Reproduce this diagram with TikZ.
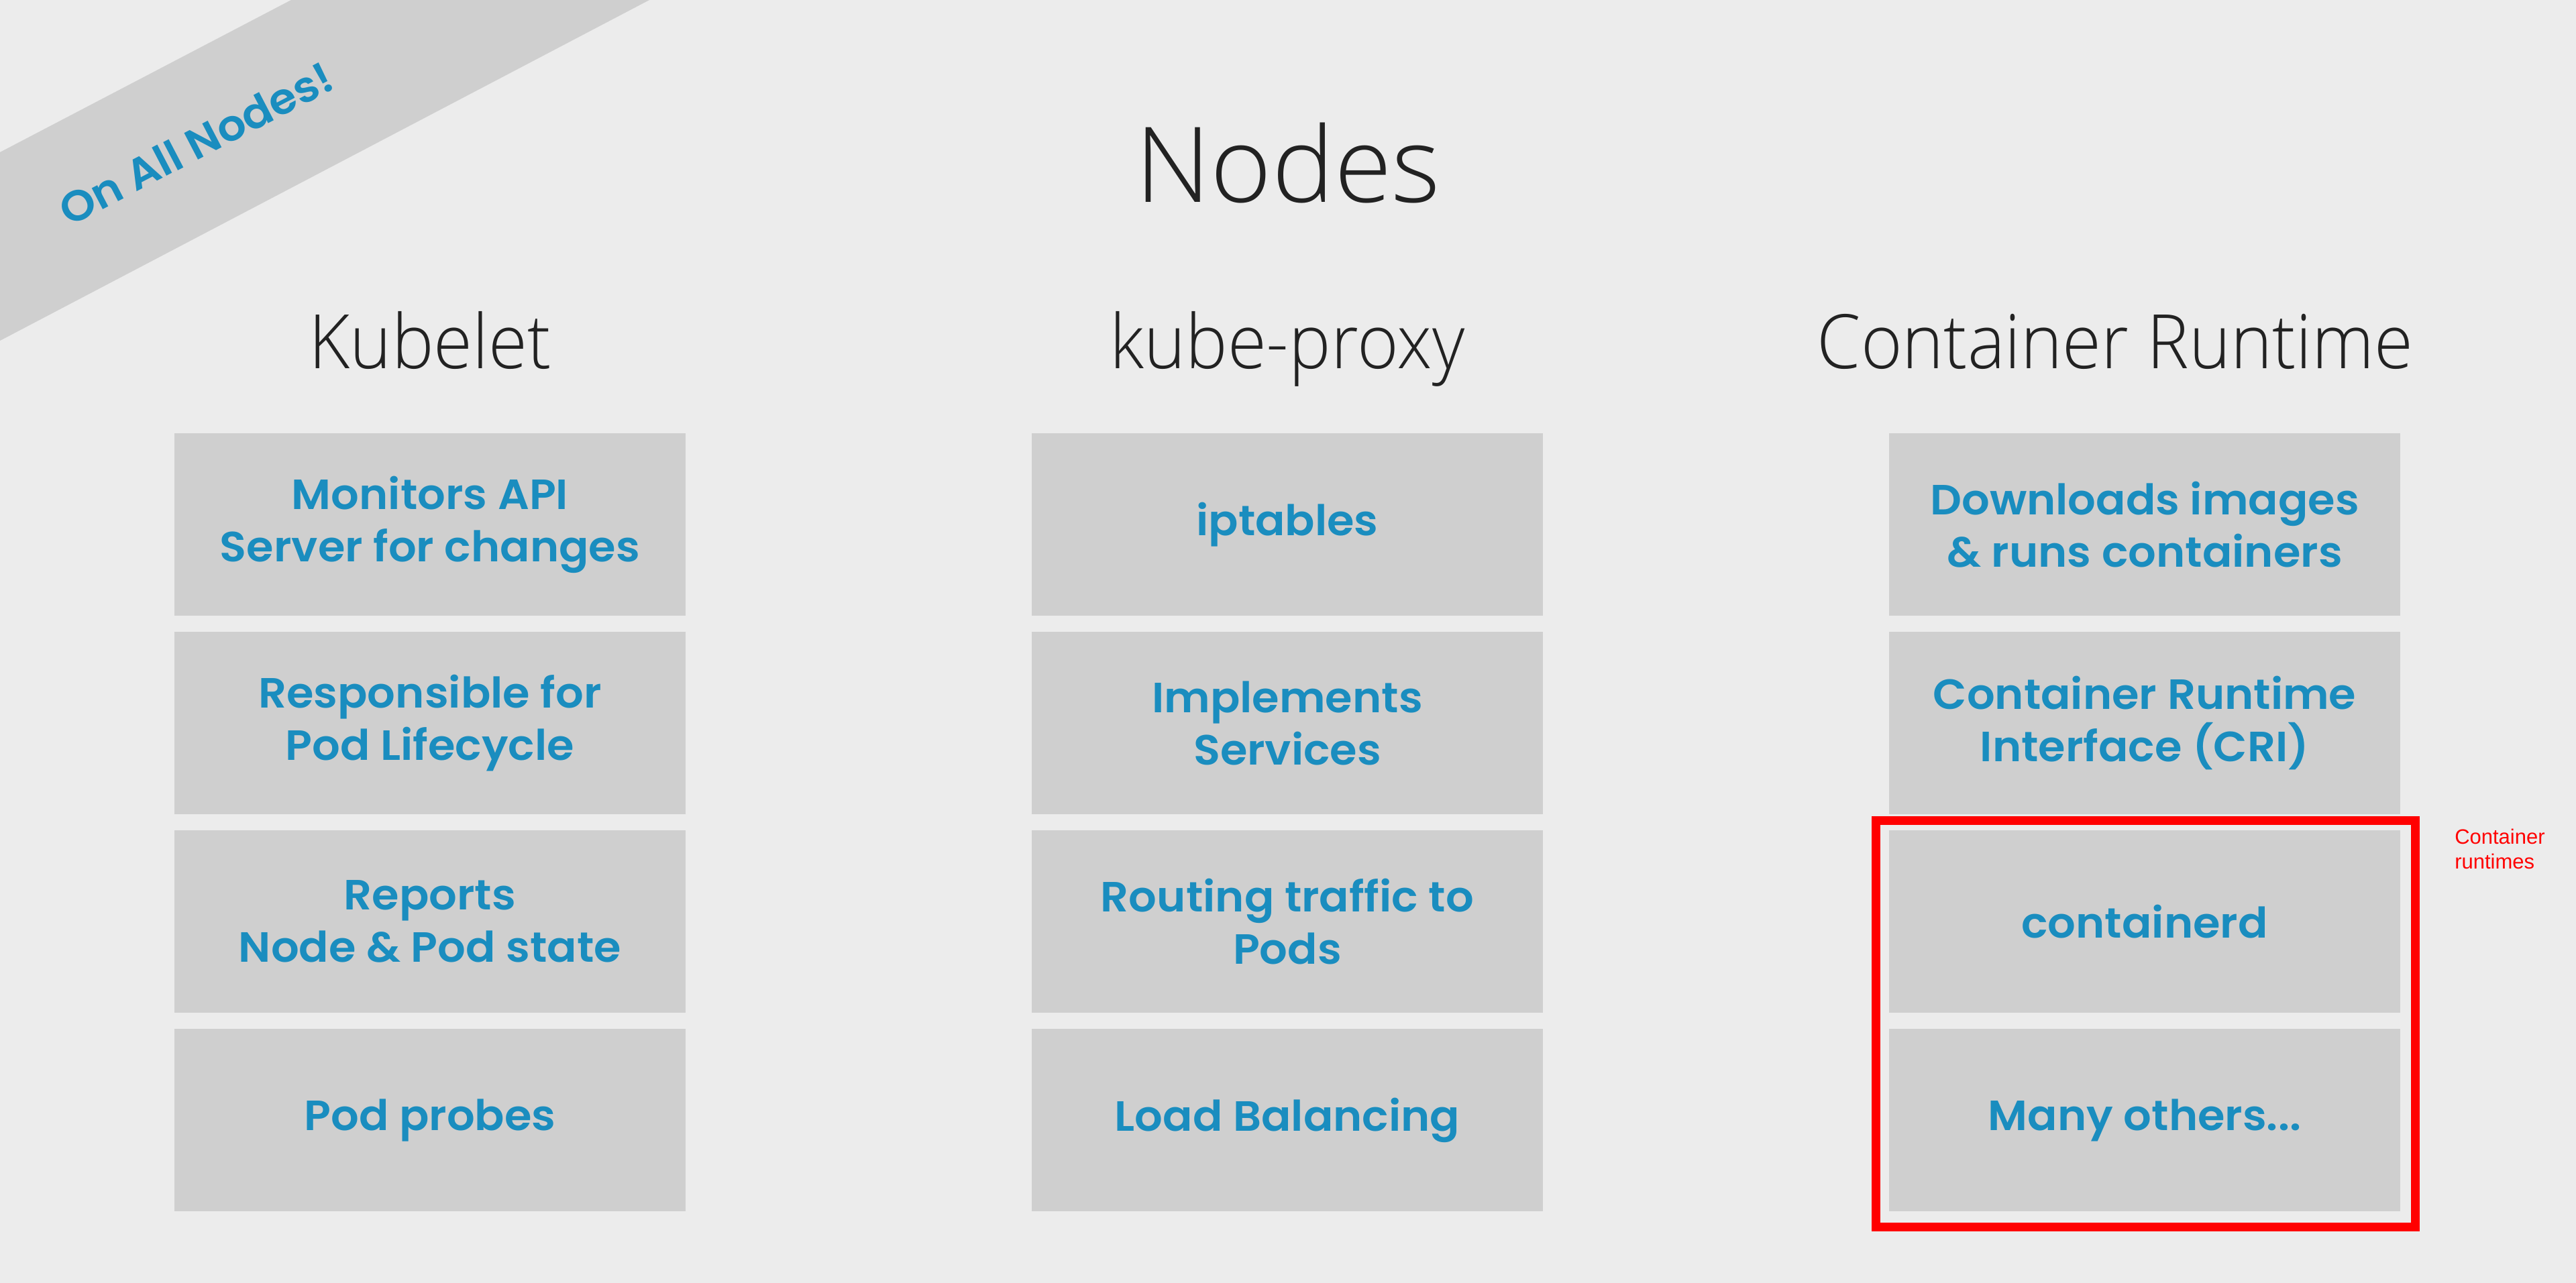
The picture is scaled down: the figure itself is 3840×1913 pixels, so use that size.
\documentclass[tikz,border=0pt]{standalone}
\usepackage{fontspec}
\newfontfamily\titlefont{Open Sans Light}
\newfontfamily\headfont{Open Sans Light}[FakeStretch=0.94]
\newfontfamily\boxfont{Poppins SemiBold}[FakeStretch=1.04]
\newfontfamily\notefont{Liberation Sans}
\definecolor{bg}{HTML}{ECECEC}
\definecolor{tilegray}{HTML}{CFCFCF}
\definecolor{ink}{HTML}{1A8DBF}
\definecolor{headink}{HTML}{222222}
\definecolor{markred}{HTML}{FF0000}
\begin{document}
\begin{tikzpicture}[x=1pt,y=-1pt,
  tile/.style={fill=tilegray, minimum width=762pt, minimum height=272pt,
    inner sep=0pt, align=center, text=ink,
    font=\boxfont\fontsize{63}{78}\selectfont},
  heading/.style={anchor=base, text=headink, inner sep=0pt,
    font=\headfont\fontsize{112}{140}\selectfont},
  frame/.style={draw=markred, line width=13pt}]
% page
\fill[bg] (0,0) rectangle (3840,1913);
\useasboundingbox (0,0) rectangle (3840,1913);

% corner banner
\fill[tilegray] (0,227) -- (434,0) -- (968,0) -- (0,508) -- cycle;
\node[rotate=27.5, text=ink, inner sep=0pt,
  font=\boxfont\fontsize{64}{64}\selectfont] (banner) at (292,214) {On All Nodes!};

% titles
\node[heading, font=\titlefont\fontsize{156}{180}\selectfont] (title) at (1920,301) {Nodes};
\node[heading] (hkubelet) at (641,549) {Kubelet};
\node[heading] (hproxy) at (1919,549) {kube-proxy};
\node[heading] (hruntime) at (3153,549) {Container Runtime};

% Kubelet column
\node[tile] (k1) at (641,782) {Monitors API\\Server for changes};
\node[tile] (k2) at (641,1078) {Responsible for\\Pod Lifecycle};
\node[tile] (k3) at (641,1374) {Reports\\Node \& Pod state};
\node[tile] (k4) at (641,1670) {Pod probes};

% kube-proxy column
\node[tile] (p1) at (1919,782) {iptables};
\node[tile] (p2) at (1919,1078) {Implements\\Services};
\node[tile] (p3) at (1919,1374) {Routing traffic to\\Pods};
\node[tile] (p4) at (1919,1670) {Load Balancing};

% container runtime column
\node[tile] (r1) at (3197,782) {Downloads images\\\& runs containers};
\node[tile] (r2) at (3197,1078) {Container Runtime\\Interface (CRI)};
\node[tile] (r3) at (3197,1374) {containerd};
\node[tile] (r4) at (3197,1670) {Many others...};

% highlight around the runtimes
\draw[frame] (2796.5,1223) rectangle (3600,1829.5);
\node[anchor=north west, inner sep=0pt, align=left, text=markred,
  font=\notefont\fontsize{31}{37}\selectfont] (note) at (3659,1236) {Container\\runtimes};
\end{tikzpicture}
\end{document}
